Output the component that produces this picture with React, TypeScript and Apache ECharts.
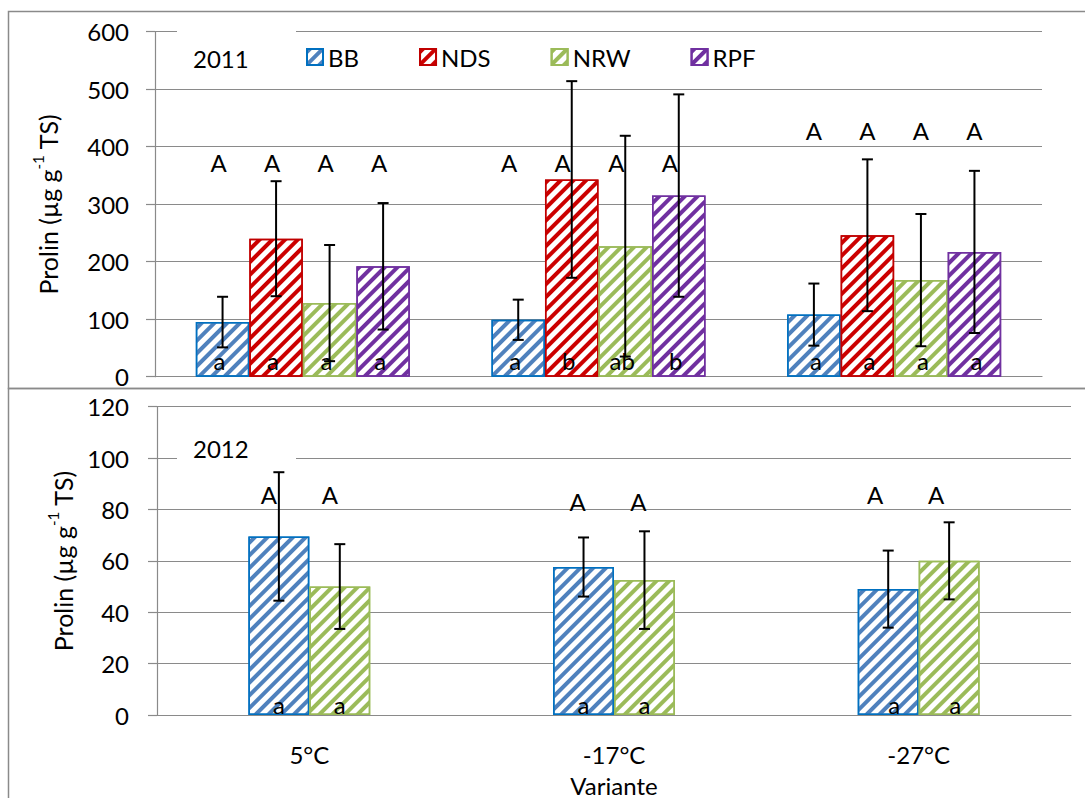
import React, { useEffect, useRef } from "react";
import * as echarts from "echarts";

const categories = ["5°C", "-17°C", "-27°C"];
const seriesNames2011 = ["BB", "NDS", "NRW", "RPF"];

const bb2011 = [95, 99, 108];
const bb2011Err = [44, 35, 54];
const nds2011 = [240, 343, 246];
const nds2011Err = [100, 171, 132];
const nrw2011 = [128, 227, 168];
const nrw2011Err = [101, 192, 115];
const rpf2011 = [192, 315, 217];
const rpf2011Err = [110, 176, 141];

const bb2012 = [69.5, 57.6, 49];
const bb2012Err = [25, 11.5, 15];
const nrw2012 = [50, 52.5, 60];
const nrw2012Err = [16.5, 19, 15];

const upperLetters2011 = [
  ["A", "A", "A"],
  ["A", "A", "A"],
  ["A", "A", "A"],
  ["A", "A", "A"],
];
const lowerLetters2011 = [
  ["a", "a", "a"],
  ["a", "b", "a"],
  ["a", "ab", "a"],
  ["a", "b", "a"],
];
const upperLevel2011 = [373, 373, 429];
const lowerLevel2011 = [29, 29, 29];

const upperLetters2012 = [
  ["A", "A", "A"],
  ["A", "A", "A"],
];
const lowerLetters2012 = [
  ["a", "a", "a"],
  ["a", "a", "a"],
];
const upperLevel2012 = [86, 83, 86];
const lowerLevel2012 = [4, 4, 4];

// small horizontal nudges (px) of the hand-placed letter boxes, per category
const upperNudge2011 = [-4, -9, 0];
const lowerNudge2011 = [-3, -3, 2];
const upperNudge2012 = [-10, -6, -13];
const lowerNudge2012 = [0, 0, 6];

const FONT = "Lato, 'Liberation Sans', sans-serif";
const FS = 24;
const colors: Record<string, { stripe: string; border: string }> = {
  BB: { stripe: "#4F81BD", border: "#0070C0" },
  NDS: { stripe: "#CC0000", border: "#C00000" },
  NRW: { stripe: "#9BBB59", border: "#9BBB59" },
  RPF: { stripe: "#7030A0", border: "#7030A0" },
};

const GAP2011 = 0.276;
const GAP2012 = 0.6;

function barSeries(name: string, data: number[], grid: number, gap: number) {
  const c = colors[name];
  return {
    type: "bar",
    name,
    xAxisIndex: grid,
    yAxisIndex: grid,
    data,
    barGap: "0%",
    barCategoryGap: `${gap * 100}%`,
    z: 2,
    itemStyle: {
      color: "#ffffff",
      borderColor: c.border,
      borderWidth: 1.5,
      decal: {
        symbol: "rect",
        color: c.stripe,
        dashArrayX: [1, 0],
        dashArrayY: [3.5, 4.5],
        symbolSize: 1,
        rotation: -Math.PI / 4,
      },
    },
  };
}

function errorSeries(
  grid: number,
  n: number,
  gap: number,
  values: number[][],
  errs: number[][]
) {
  const items: { cat: number; s: number; v: number; e: number }[] = [];
  values.forEach((vals, s) =>
    vals.forEach((v, cat) => items.push({ cat, s, v, e: errs[s][cat] }))
  );
  return {
    type: "custom",
    xAxisIndex: grid,
    yAxisIndex: grid,
    z: 10,
    silent: true,
    data: items.map((it) => [it.cat, it.v]),
    encode: { x: 0, y: 1 },
    renderItem: (params: any, api: any) => {
      const it = items[params.dataIndex];
      const band = api.size([1, 0])[0];
      const bw = (band * (1 - gap)) / n;
      const base = api.coord([it.cat, it.v]);
      const x = base[0] + (it.s - (n - 1) / 2) * bw;
      const yHi = api.coord([it.cat, it.v + it.e])[1];
      const yLo = api.coord([it.cat, it.v - it.e])[1];
      const cap = 5.5;
      const style = { stroke: "#000", lineWidth: 2 };
      return {
        type: "group",
        children: [
          { type: "line", shape: { x1: x, y1: yHi, x2: x, y2: yLo }, style },
          { type: "line", shape: { x1: x - cap, y1: yHi, x2: x + cap, y2: yHi }, style },
          { type: "line", shape: { x1: x - cap, y1: yLo, x2: x + cap, y2: yLo }, style },
        ],
      };
    },
  };
}

function letterSeries(
  grid: number,
  n: number,
  gap: number,
  letters: string[][],
  levels: number[],
  nudge: number[]
) {
  const items: { cat: number; s: number; text: string; lvl: number }[] = [];
  letters.forEach((row, s) =>
    row.forEach((t, cat) => items.push({ cat, s, text: t, lvl: levels[cat] }))
  );
  return {
    type: "custom",
    xAxisIndex: grid,
    yAxisIndex: grid,
    z: 11,
    silent: true,
    data: items.map((it) => [it.cat, it.lvl]),
    encode: { x: 0, y: 1 },
    renderItem: (params: any, api: any) => {
      const it = items[params.dataIndex];
      const band = api.size([1, 0])[0];
      const bw = (band * (1 - gap)) / n;
      const p = api.coord([it.cat, it.lvl]);
      const x = p[0] + (it.s - (n - 1) / 2) * bw + nudge[it.cat];
      return {
        type: "text",
        x,
        y: p[1],
        style: {
          text: it.text,
          fill: "#000",
          font: `${FS}px ${FONT}`,
          align: "center",
          verticalAlign: "middle",
        },
      };
    },
  };
}

const yName = "{a|Prolin (µg g}{s|-1}{a| TS)}";
const yNameStyle = {
  color: "#000",
  fontFamily: FONT,
  rich: {
    a: { fontSize: 25, fontFamily: FONT, color: "#000", lineHeight: 30, verticalAlign: "bottom" },
    s: { fontSize: 15, fontFamily: FONT, color: "#000", lineHeight: 30, verticalAlign: "top", padding: [0, 0, 12, 0] },
  },
};

export default function App() {
  const ref = useRef<HTMLDivElement>(null);
  useEffect(() => {
    if (!ref.current) return;
    const chart = echarts.init(ref.current, null, { renderer: "svg" });
    const gridLine = { show: true, lineStyle: { color: "#8a8a8a", width: 1.2 } };
    const axisLine = { show: true, lineStyle: { color: "#8a8a8a", width: 1.2 } };
    const option: any = {
      animation: false,
      backgroundColor: "#ffffff",
      textStyle: { fontFamily: FONT },
      legend: {
        data: seriesNames2011,
        left: 301,
        top: 40,
        itemWidth: 16,
        itemHeight: 16,
        itemGap: 60,
        icon: "rect",
        textStyle: { fontSize: FS, color: "#000", fontFamily: FONT },
        selectedMode: false,
      },
      grid: [
        { left: 155, right: 43, top: 31.7, height: 345, containLabel: false },
        { left: 157, right: 14, top: 406.7, height: 308.3, containLabel: false },
      ],
      xAxis: [
        {
          type: "category",
          gridIndex: 0,
          data: categories,
          axisLine,
          axisTick: { show: false },
          axisLabel: { show: false },
        },
        {
          type: "category",
          gridIndex: 1,
          data: categories,
          axisLine,
          axisTick: { show: false },
          axisLabel: { show: true, fontSize: FS, color: "#000", fontFamily: FONT, margin: 27, lineHeight: 24 },
          name: "Variante",
          nameLocation: "middle",
          nameGap: 58,
          nameTextStyle: { fontSize: FS, color: "#000", fontFamily: FONT, lineHeight: 24 },
        },
      ],
      yAxis: [
        {
          type: "value",
          gridIndex: 0,
          min: 0,
          max: 600,
          interval: 100,
          axisLine,
          axisTick: { show: true, length: 9, lineStyle: { color: "#8a8a8a", width: 1.2 } },
          splitLine: gridLine,
          axisLabel: { fontSize: FS, color: "#000", fontFamily: FONT, margin: 26 },
          name: yName,
          nameLocation: "middle",
          nameGap: 95,
          nameTextStyle: yNameStyle,
        },
        {
          type: "value",
          gridIndex: 1,
          min: 0,
          max: 120,
          interval: 20,
          axisLine,
          axisTick: { show: true, length: 9, lineStyle: { color: "#8a8a8a", width: 1.2 } },
          splitLine: gridLine,
          axisLabel: { fontSize: FS, color: "#000", fontFamily: FONT, margin: 28 },
          name: yName,
          nameLocation: "middle",
          nameGap: 82,
          nameTextStyle: yNameStyle,
        },
      ],
      graphic: [
        {
          type: "rect",
          z: 0,
          shape: { x: 8.5, y: 11.5, width: 1100, height: 377 },
          style: { fill: "none", stroke: "#8a8a8a", lineWidth: 1.5 },
        },
        {
          type: "rect",
          z: 0,
          shape: { x: 8.5, y: 388.5, width: 1100, height: 420 },
          style: { fill: "none", stroke: "#8a8a8a", lineWidth: 1.5 },
        },
        {
          type: "rect",
          z: 5,
          shape: { x: 177, y: 24, width: 119, height: 56 },
          style: { fill: "#ffffff" },
        },
        {
          type: "text",
          z: 6,
          left: 193,
          top: 46,
          style: { text: "2011", font: `${FS}px ${FONT}`, fill: "#000" },
        },
        {
          type: "rect",
          z: 5,
          shape: { x: 177, y: 425, width: 119, height: 50 },
          style: { fill: "#ffffff" },
        },
        {
          type: "text",
          z: 6,
          left: 193,
          top: 436,
          style: { text: "2012", font: `${FS}px ${FONT}`, fill: "#000" },
        },
      ],
      series: [
        barSeries("BB", bb2011, 0, GAP2011),
        barSeries("NDS", nds2011, 0, GAP2011),
        barSeries("NRW", nrw2011, 0, GAP2011),
        barSeries("RPF", rpf2011, 0, GAP2011),
        barSeries("BB", bb2012, 1, GAP2012),
        barSeries("NRW", nrw2012, 1, GAP2012),
        errorSeries(0, 4, GAP2011, [bb2011, nds2011, nrw2011, rpf2011], [bb2011Err, nds2011Err, nrw2011Err, rpf2011Err]),
        errorSeries(1, 2, GAP2012, [bb2012, nrw2012], [bb2012Err, nrw2012Err]),
        letterSeries(0, 4, GAP2011, upperLetters2011, upperLevel2011, upperNudge2011),
        letterSeries(0, 4, GAP2011, lowerLetters2011, lowerLevel2011, lowerNudge2011),
        letterSeries(1, 2, GAP2012, upperLetters2012, upperLevel2012, upperNudge2012),
        letterSeries(1, 2, GAP2012, lowerLetters2012, lowerLevel2012, lowerNudge2012),
      ],
    };
    chart.setOption(option);
    return () => chart.dispose();
  }, []);
  return (
    <div
      ref={ref}
      style={{ position: "fixed", left: 0, top: 0, width: 1085, height: 798, background: "#fff" }}
    />
  );
}
